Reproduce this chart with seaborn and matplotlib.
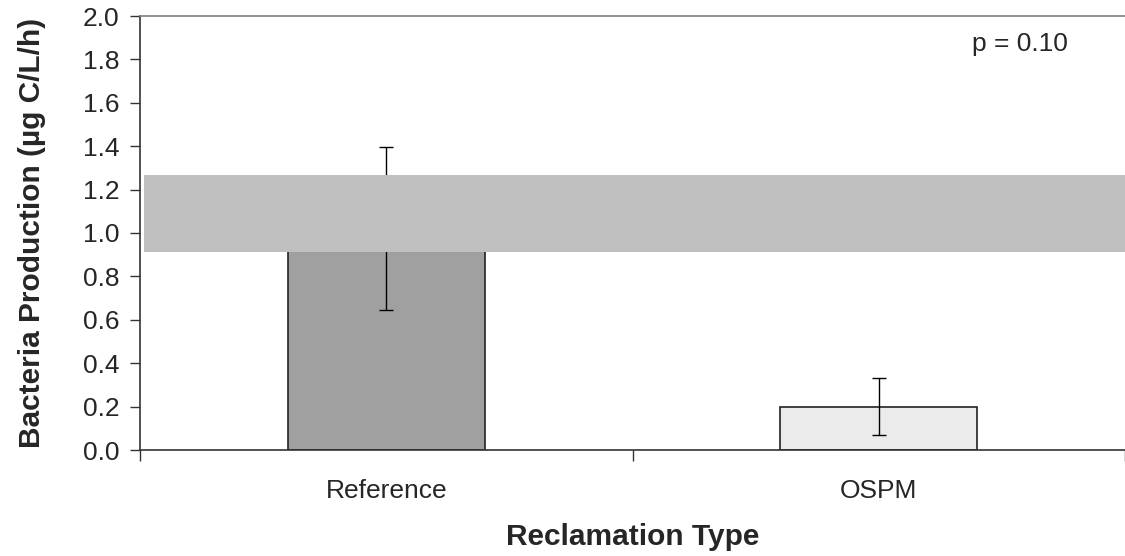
import matplotlib
matplotlib.use("Agg")
import matplotlib.pyplot as plt
import seaborn as sns
import pandas as pd
import numpy as np

categories = ["Reference", "OSPM"]
means = [1.02, 0.20]
errors = [0.375, 0.13]
bar_colors = ["#a0a0a0", "#ebebeb"]
band_low, band_high = 0.914, 1.267
yticks = [0.0, 0.2, 0.4, 0.6, 0.8, 1.0, 1.2, 1.4, 1.6, 1.8, 2.0]
p_text = "p = 0.10"

sns.set_theme(style="white")
plt.rcParams['font.family'] = ['Liberation Sans', 'DejaVu Sans']

df = pd.DataFrame({"Reclamation Type": categories, "value": means})

fig = plt.figure(figsize=(11.25, 5.56), dpi=100)
ax = fig.add_axes([140/1125, 1 - 450/556, 1 - 140/1125, (450 - 16)/556])

sns.barplot(data=df, x="Reclamation Type", y="value", hue="Reclamation Type",
            palette=bar_colors, width=0.4, edgecolor="#222222", linewidth=1.2,
            legend=False, ax=ax, zorder=2)
ax.errorbar(range(len(categories)), means, yerr=errors, fmt="none",
            ecolor="black", elinewidth=1.0, capsize=5, capthick=1.0, zorder=3)

ax.axhspan(band_low, band_high, xmin=0.004, xmax=1.0, color="#c0c0c0", zorder=4, lw=0)

ax.set_xlim(-0.5, 1.5)
ax.set_ylim(0, 2.0)
ax.set_yticks(yticks)
ax.set_yticklabels([f"{v:.1f}" for v in yticks], fontsize=19)
ax.set_xticks([0, 1])
ax.set_xticklabels(categories, fontsize=19)
ax.tick_params(axis="x", length=0, pad=21)
ax.set_xticks([-0.5, 0.5, 1.5], minor=True)
ax.tick_params(axis="x", which="minor", direction="out", length=8, width=1, color="#333333", bottom=True)
ax.tick_params(axis="y", direction="out", length=7, width=1, color="#333333", left=True, pad=8)

for s in ["left", "bottom"]:
    ax.spines[s].set_color("#333333")
    ax.spines[s].set_linewidth(1.2)
ax.spines["top"].set_color("#808080")
ax.spines["top"].set_linewidth(1.2)
ax.spines["right"].set_visible(False)

ax.set_ylabel("Bacteria Production (µg C/L/h)", fontsize=21.5, fontweight="bold")
ax.yaxis.set_label_coords(-0.095, 0.5)
ax.set_xlabel("Reclamation Type", fontsize=21.5, fontweight="bold")
ax.xaxis.set_label_coords(0.5, -0.168)

ax.text(0.845, 0.935, p_text, fontsize=19, ha="left", va="center", zorder=5,
        transform=ax.transAxes)

fig.savefig("out.png", dpi=100)
